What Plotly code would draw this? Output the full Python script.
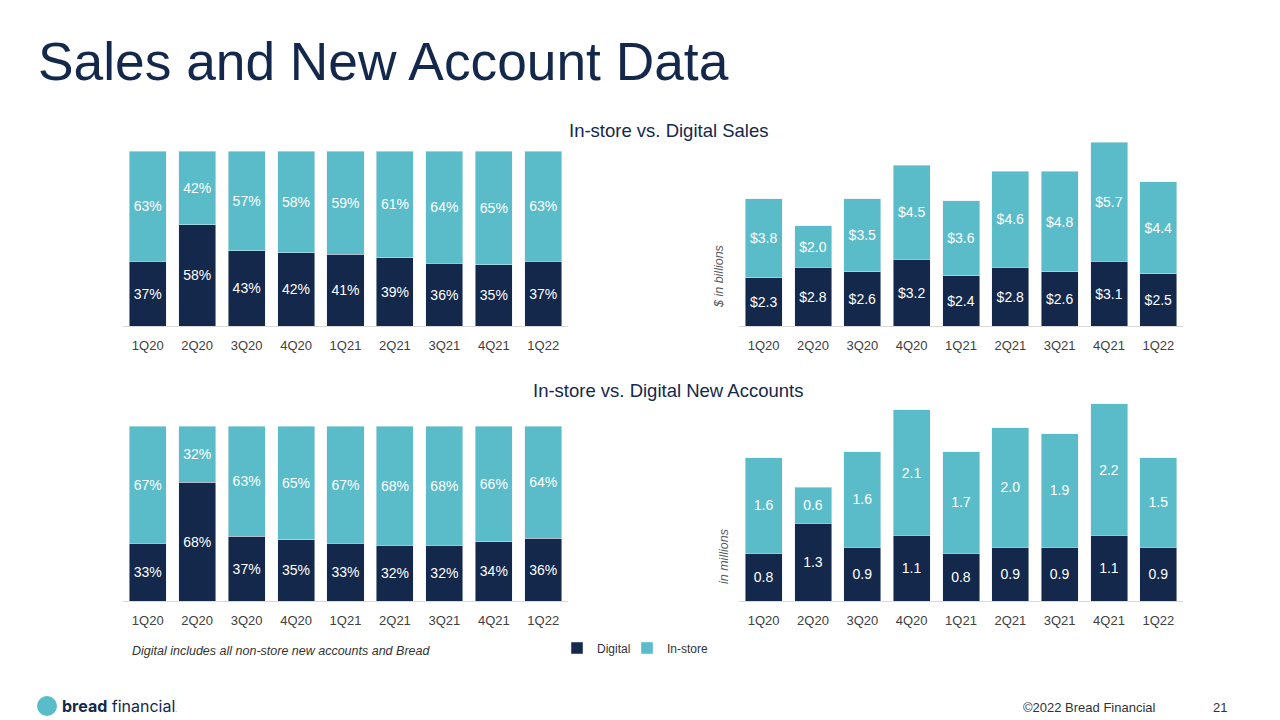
import plotly.graph_objects as go
from plotly.subplots import make_subplots

quarters = ["1Q20", "2Q20", "3Q20", "4Q20", "1Q21", "2Q21", "3Q21", "4Q21", "1Q22"]

# sales mix (%)
sales_digital_pct = [37, 58, 43, 42, 41, 39, 36, 35, 37]
sales_instore_pct = [63, 42, 57, 58, 59, 61, 64, 65, 63]

# sales ($ in billions)
sales_digital = [2.3, 2.8, 2.6, 3.2, 2.4, 2.8, 2.6, 3.1, 2.5]
sales_instore = [3.8, 2.0, 3.5, 4.5, 3.6, 4.6, 4.8, 5.7, 4.4]

# new accounts mix (%)
acct_digital_pct = [33, 68, 37, 35, 33, 32, 32, 34, 36]
acct_instore_pct = [67, 32, 63, 65, 67, 68, 68, 66, 64]

# new accounts (in millions)
acct_digital = [0.8, 1.3, 0.9, 1.1, 0.8, 0.9, 0.9, 1.1, 0.9]
acct_instore = [1.6, 0.6, 1.6, 2.1, 1.7, 2.0, 1.9, 2.2, 1.5]

NAVY = "#13284A"
TEAL = "#5BBCC9"
TEXT = "#14284B"
FONT = "Liberation Sans, Arial, sans-serif"

fig = make_subplots(rows=2, cols=2)


def add_pair(row, col, dig, ins, tmpl, legend=False):
    # digital in legend, in-store in legend2 so each can be placed on its own
    fig.add_trace(go.Bar(x=quarters, y=dig, name="Digital", marker_color=NAVY,
                         text=dig, texttemplate=tmpl, textposition="inside",
                         insidetextanchor="middle", constraintext="none",
                         textfont=dict(color="white", size=14),
                         showlegend=legend, legend="legend"), row=row, col=col)
    fig.add_trace(go.Bar(x=quarters, y=ins, name="In-store", marker_color=TEAL,
                         text=ins, texttemplate=tmpl, textposition="inside",
                         insidetextanchor="middle", constraintext="none",
                         textfont=dict(color="white", size=14),
                         showlegend=legend, legend="legend2"), row=row, col=col)


add_pair(1, 1, sales_digital_pct, sales_instore_pct, "%{y}%")
add_pair(1, 2, sales_digital, sales_instore, "$%{y:.1f}")
add_pair(2, 1, acct_digital_pct, acct_instore_pct, "%{y}%", legend=True)
add_pair(2, 2, acct_digital, acct_instore, "%{y:.1f}")

W, H = 1280, 720
def px_x(a, b):
    return [a / W, b / W]
def px_y(top, bottom):
    return [1 - bottom / H, 1 - top / H]

fig.update_layout(
    xaxis=dict(domain=px_x(123, 568)),
    xaxis2=dict(domain=px_x(739, 1183)),
    xaxis3=dict(domain=px_x(123, 568)),
    xaxis4=dict(domain=px_x(739, 1183)),
    yaxis=dict(domain=px_y(151, 326), range=[0, 100]),
    yaxis2=dict(domain=px_y(140, 326), range=[0, 8.9]),
    yaxis3=dict(domain=px_y(426, 601), range=[0, 100]),
    yaxis4=dict(domain=px_y(402, 601), range=[0, 3.33]),
)
fig.update_xaxes(showline=True, linecolor="#D9D9D9", linewidth=1, ticks="",
                 showgrid=False, ticklabelstandoff=7,
                 tickfont=dict(size=13, color="#404040"))
fig.update_yaxes(visible=False, showgrid=False, zeroline=False)

annotations = [
    dict(text="Sales and New Account Data", x=36 / W, y=1 - 61 / H, xanchor="left",
         yanchor="middle", font=dict(size=53.3, color=TEXT)),
    dict(text="In-store vs. Digital Sales", x=668 / W, y=1 - 130 / H,
         xanchor="center", yanchor="middle", font=dict(size=18.5, color=TEXT)),
    dict(text="In-store vs. Digital New Accounts", x=668 / W, y=1 - 391 / H,
         xanchor="center", yanchor="middle", font=dict(size=18.5, color=TEXT)),
    dict(text="<i>$ in billions</i>", x=719 / W, y=1 - 277 / H, textangle=-90,
         xanchor="center", yanchor="middle", font=dict(size=12.5, color="#595959")),
    dict(text="<i>in millions</i>", x=724 / W, y=1 - 557 / H, textangle=-90,
         xanchor="center", yanchor="middle", font=dict(size=12.5, color="#595959")),
    dict(text="<i>Digital includes all non-store new accounts and Bread</i>",
         x=130 / W, y=1 - 651 / H, xanchor="left", yanchor="middle",
         font=dict(size=12.5, color="#333333")),
    dict(text="<b>bread</b> financial<span style='font-size:6px'>.</span>",
         x=60 / W, y=1 - 706 / H, xanchor="left", yanchor="middle",
         font=dict(family="Inter, Lato, sans-serif", size=16, color=TEXT)),
    dict(text="©2022 Bread Financial", x=1158 / W, y=1 - 707 / H, xanchor="right",
         yanchor="middle", font=dict(size=13, color="#333333")),
    dict(text="21", x=1229 / W, y=1 - 707 / H, xanchor="right",
         yanchor="middle", font=dict(size=13, color="#333333")),
]
for a in annotations:
    a.update(xref="paper", yref="paper", showarrow=False)

legend_style = dict(orientation="h", y=1 - 648 / H, xanchor="left",
                    yanchor="middle", font=dict(size=12, color="#333333"),
                    itemwidth=30, bgcolor="rgba(0,0,0,0)")

fig.update_layout(
    width=W, height=H,
    margin=dict(l=0, r=0, t=0, b=0),
    paper_bgcolor="white", plot_bgcolor="white",
    barmode="stack", bargap=0.25,
    font=dict(family=FONT, color=TEXT),
    annotations=annotations,
    shapes=[dict(type="circle", xref="paper", yref="paper",
                 x0=37 / W, x1=57 / W, y0=1 - 716 / H, y1=1 - 696 / H,
                 fillcolor=TEAL, line=dict(width=0))],
    legend=dict(x=557 / W, **legend_style),
    legend2=dict(x=627 / W, **legend_style),
)

fig.write_html("out.html", config={"displayModeBar": False},
               post_script="document.body.style.margin='0';")
